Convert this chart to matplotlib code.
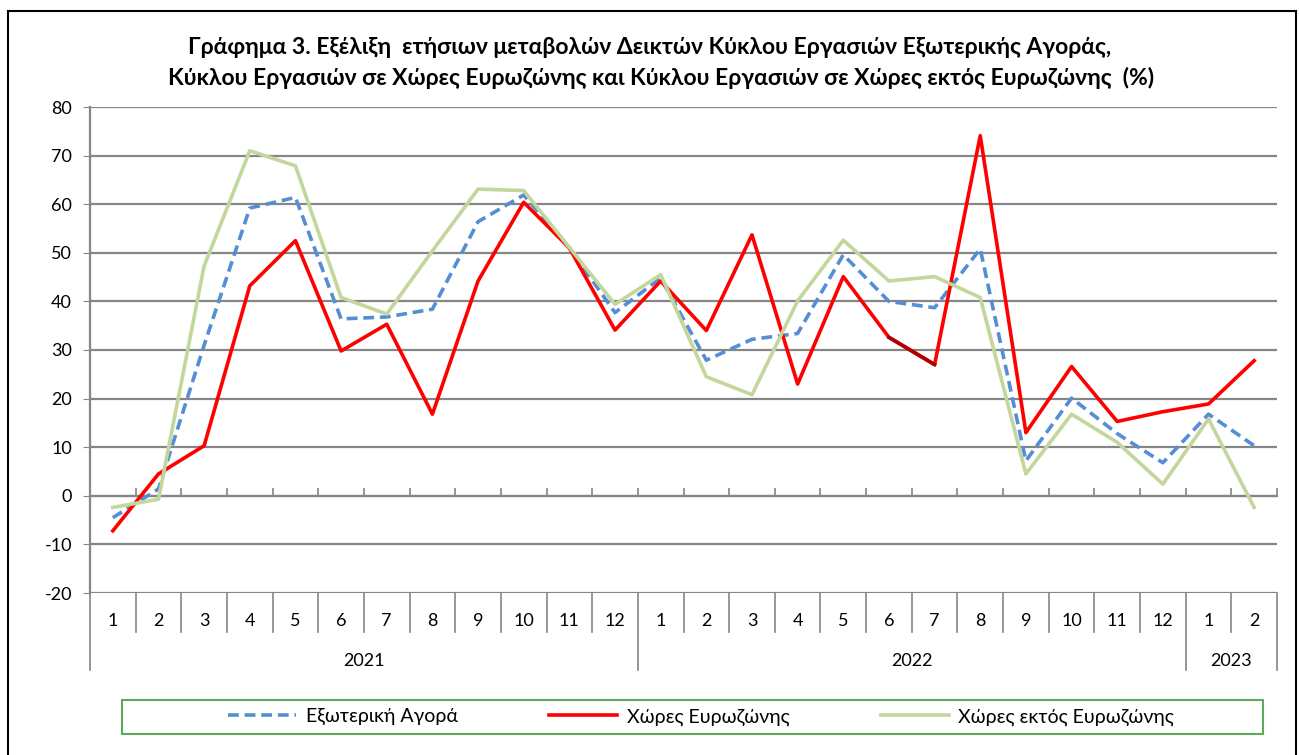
import numpy as np
import matplotlib.pyplot as plt
from matplotlib.patches import Rectangle
from matplotlib.lines import Line2D
from matplotlib.transforms import blended_transform_factory

plt.rcParams['font.family'] = ['Lato', 'DejaVu Sans']
plt.rcParams['axes.unicode_minus'] = False

# ---- data ----
months = ['1', '2', '3', '4', '5', '6', '7', '8', '9', '10', '11', '12',
          '1', '2', '3', '4', '5', '6', '7', '8', '9', '10', '11', '12',
          '1', '2']
years = ['2021', '2022', '2023']
year_len = [12, 12, 2]

ext_market = [-4.5, 1.4, 31.0, 59.2, 61.4, 36.4, 36.8, 38.4, 56.4, 61.9, 51.0, 37.7,
              44.8, 27.9, 32.2, 33.4, 49.6, 40.0, 38.7, 50.8, 7.2, 20.1, 12.8, 6.8,
              16.8, 10.3]
eurozone = [-7.2, 4.5, 10.3, 43.2, 52.5, 29.8, 35.3, 16.8, 44.2, 60.4, 51.0, 34.1,
            44.2, 34.0, 53.7, 23.0, 45.1, 32.6, 27.0, 74.1, 13.0, 26.6, 15.3, 17.3,
            18.9, 27.8]
non_eurozone = [-2.4, -0.7, 47.3, 71.0, 67.9, 40.8, 37.4, 50.4, 63.1, 62.8, 51.1, 39.4,
                45.5, 24.5, 20.8, 40.1, 52.6, 44.2, 45.1, 40.8, 4.5, 16.8, 11.0, 2.4,
                15.8, -2.4]

labels = ['Εξωτερική Αγορά', 'Χώρες Ευρωζώνης', 'Χώρες εκτός Ευρωζώνης']
title_1 = 'Γράφημα 3. Εξέλιξη  ετήσιων μεταβολών Δεικτών Κύκλου Εργασιών Εξωτερικής Αγοράς,'
title_2 = 'Κύκλου Εργασιών σε Χώρες Ευρωζώνης και Κύκλου Εργασιών σε Χώρες εκτός Ευρωζώνης  (%)'

W, H = 1299, 755
fig = plt.figure(figsize=(W / 100, H / 100), dpi=100)
ax = fig.add_axes([90 / W, 1 - 593 / H, (1277 - 90) / W, (593 - 107) / H])

x = np.arange(len(months))
grid_col = '#868686'

# gridlines
for v in range(-20, 90, 10):
    ax.axhline(v, color=grid_col, lw=1.6, zorder=0)

ax.plot(x, ext_market, color='#558ED5', lw=2.6, ls=(0, (3, 1.6)), zorder=3, label=labels[0])
ax.plot(x, eurozone, color='#FF0000', lw=2.6, zorder=4, label=labels[1])
ax.plot(x[17:19], eurozone[17:19], color='#B00000', lw=2.6, zorder=4)
ax.plot(x, non_eurozone, color='#C3D69B', lw=2.6, zorder=5, label=labels[2])

ax.set_xlim(-0.5, len(months) - 0.5)
ax.set_ylim(-20, 80)
ax.set_yticks(range(-20, 90, 10))
ax.tick_params(axis='y', labelsize=13, length=5, color=grid_col, pad=8)

for s in ['top', 'right']:
    ax.spines[s].set_visible(False)
ax.spines['left'].set_color(grid_col)
ax.spines['left'].set_linewidth(1.6)
ax.spines['bottom'].set_position(('data', 0))
ax.spines['bottom'].set_color(grid_col)
ax.spines['bottom'].set_linewidth(1.6)
ax.set_xticks(np.arange(-0.5, len(months), 1.0))
ax.set_xticklabels([])
ax.tick_params(axis='x', direction='in', length=6, color=grid_col, width=1.2)

# category band under the plot
tr = blended_transform_factory(ax.transData, ax.transAxes)
ah = 593 - 107
y_month = -(621 - 593) / ah
y_msep = -(632 - 593) / ah
y_year = -(661 - 593) / ah
y_ysep = -(670 - 593) / ah
for i, m in enumerate(months):
    ax.text(x[i], y_month, m, transform=tr, ha='center', va='center', fontsize=13)
year_edges = np.concatenate([[0], np.cumsum(year_len)]) - 0.5
for b in np.arange(-0.5, len(months), 1.0):
    bottom = y_ysep if b in year_edges else y_msep
    ax.add_line(Line2D([b, b], [0, bottom], transform=tr, color=grid_col, lw=1.2, clip_on=False))
for k, yr in enumerate(years):
    ax.text((year_edges[k] + year_edges[k + 1]) / 2, y_year, yr, transform=tr,
            ha='center', va='center', fontsize=13)

# title
fig.text(650 / W, 1 - 48 / H, title_1, ha='center', va='center', fontsize=16.5, fontweight='bold')
fig.text(661 / W, 1 - 78 / H, title_2, ha='center', va='center', fontsize=16.5, fontweight='bold')

# outer border
fig.patches.append(Rectangle((8 / W, -0.05), (1296 - 8) / W, 1 - 11 / H + 0.05,
                             transform=fig.transFigure, fill=False, ec='black', lw=1.5))

# legend box
fig.patches.append(Rectangle((122 / W, 1 - 734 / H), (1263 - 122) / W, 34 / H,
                             transform=fig.transFigure, fill=False, ec='#5FA85F', lw=1.5))
fig.legend(loc='center', bbox_to_anchor=(701 / W, 1 - 717 / H), ncol=3, frameon=False,
           fontsize=14, handlelength=3.5, handletextpad=0.5, columnspacing=4.7)

fig.savefig('out.png', dpi=100)
